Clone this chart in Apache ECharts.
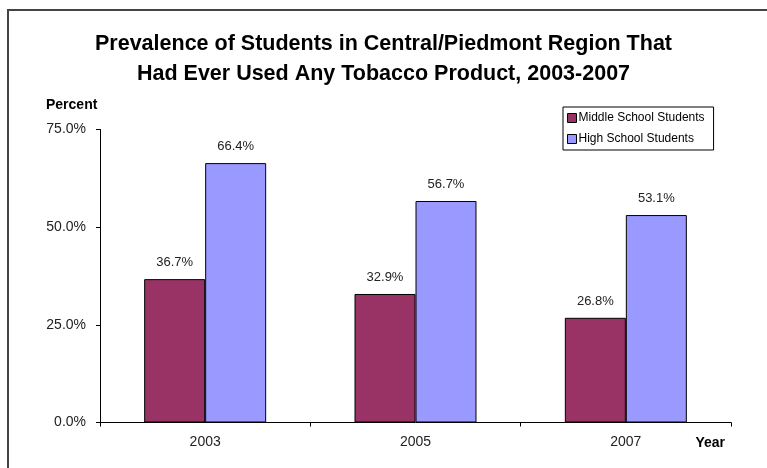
<!DOCTYPE html>
<html>
<head>
<meta charset="utf-8">
<script src="https://cdn.jsdelivr.net/npm/echarts@6/dist/echarts.min.js"></script>
<style>
  html, body { margin: 0; padding: 0; background: #fff; }
  #chart { width: 767px; height: 468px; }
</style>
</head>
<body>
<div id="chart"></div>
<script>
// Survey years on the category axis
const years = ['2003', '2005', '2007'];
// Percent of students who had ever used any tobacco product
const middleSchool = [36.7, 32.9, 26.8];
const highSchool = [66.4, 56.7, 53.1];
// Value axis ticks
const yTicks = [0, 25, 50, 75];

const font = '"Liberation Sans", Arial, sans-serif';
const pct = v => Number(v).toFixed(1) + '%';

const chart = echarts.init(document.getElementById('chart'), null, { renderer: 'canvas' });

const barLabel = {
  show: true,
  position: 'top',
  distance: 10,
  fontFamily: font,
  fontSize: 13,
  color: '#222',
  formatter: p => pct(p.value)
};

chart.setOption({
  animation: false,
  backgroundColor: '#fff',
  title: {
    text: 'Prevalence of Students in Central/Piedmont Region That\nHad Ever Used Any Tobacco Product, 2003-2007',
    left: 'center',
    top: 24,
    textStyle: {
      fontFamily: font,
      fontSize: 21.5,
      fontWeight: 'bold',
      color: '#000',
      lineHeight: 30
    }
  },
  legend: {
    orient: 'vertical',
    left: 563,
    top: 107,
    width: 150,
    padding: [5, 9, 5, 4],
    itemGap: 9,
    itemWidth: 9,
    itemHeight: 9,
    borderColor: '#000',
    borderWidth: 1,
    icon: 'rect',
    textStyle: { fontFamily: font, fontSize: 12, color: '#000', padding: [0, 0, 0, -3] },
    data: [
      { name: 'Middle School Students', itemStyle: { borderColor: '#000', borderWidth: 1 } },
      { name: 'High School Students', itemStyle: { borderColor: '#000', borderWidth: 1 } }
    ]
  },
  grid: {
    left: 100,
    right: 36,
    top: 129.5,
    bottom: 45.5,
    containLabel: false
  },
  xAxis: {
    type: 'category',
    data: years,
    axisLine: { show: true, lineStyle: { color: '#000', width: 1 } },
    axisTick: { show: true, alignWithLabel: false, length: 4, lineStyle: { color: '#000' } },
    axisLabel: { margin: 13, fontFamily: font, fontSize: 14, color: '#222' },
    name: 'Year',
    nameLocation: 'end',
    nameGap: 0,
    nameTextStyle: {
      fontFamily: font,
      fontSize: 14,
      fontWeight: 'bold',
      color: '#000',
      align: 'right',
      verticalAlign: 'top',
      padding: [14, 6, 0, 0]
    }
  },
  yAxis: {
    type: 'value',
    min: yTicks[0],
    max: yTicks[yTicks.length - 1],
    interval: 25,
    axisLine: { show: true, lineStyle: { color: '#000', width: 1 } },
    axisTick: { show: true, inside: false, length: 4, lineStyle: { color: '#000' } },
    splitLine: { show: false },
    axisLabel: { margin: 14, fontFamily: font, fontSize: 14, color: '#222', formatter: v => pct(v) },
    name: 'Percent',
    nameLocation: 'end',
    nameGap: 17,
    nameTextStyle: {
      fontFamily: font,
      fontSize: 14,
      fontWeight: 'bold',
      color: '#000',
      align: 'left',
      padding: [0, 0, 0, -54]
    }
  },
  series: [
    {
      name: 'Middle School Students',
      type: 'bar',
      data: middleSchool,
      barGap: '0%',
      barCategoryGap: '42%',
      itemStyle: { color: '#993366', borderColor: '#000', borderWidth: 1 },
      label: barLabel
    },
    {
      name: 'High School Students',
      type: 'bar',
      data: highSchool,
      itemStyle: { color: '#9999FF', borderColor: '#000', borderWidth: 1 },
      label: barLabel
    }
  ],
  graphic: [
    {
      type: 'rect',
      shape: { x: 8, y: 10, width: 800, height: 500 },
      style: { fill: 'none', stroke: '#444', lineWidth: 2 },
      silent: true,
      z: 100
    }
  ]
});
</script>
</body>
</html>
